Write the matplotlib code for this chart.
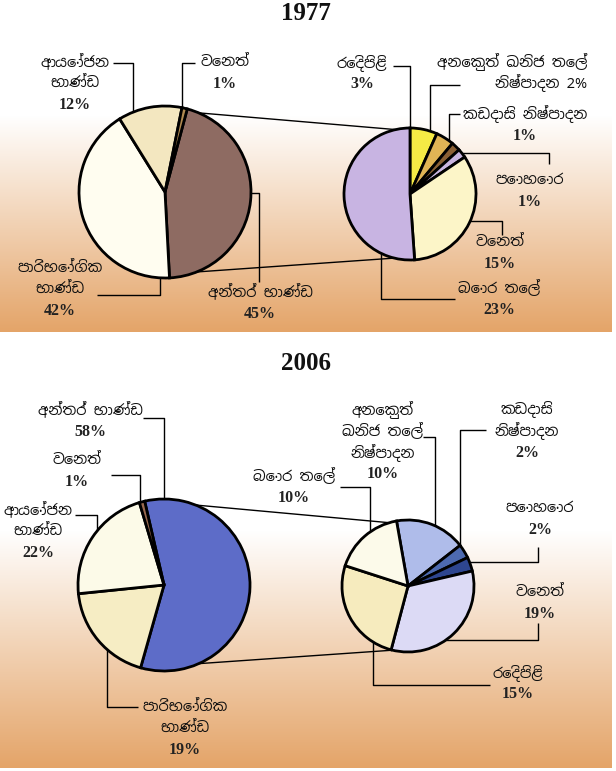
import matplotlib
matplotlib.use('Agg')
import matplotlib.pyplot as plt
import numpy as np
from matplotlib import font_manager

W, H = 616, 771

# ---- data ----
main_names = ['අන්තර් භාණ්ඩ', 'පාරිභෝගික භාණ්ඩ', 'ආයෝජන භාණ්ඩ', 'වෙනත්']
main_1977 = [45, 42, 12, 1]
main_2006 = [58, 19, 22, 1]

sub_names_1977 = ['රෙදිපිළි', 'අනෙකුත් ඛනිජ තෙල් නිෂ්පාදන', 'කඩදාසි නිෂ්පාදන',
                  'පොහොර', 'වෙනත්', 'බොර තෙල්']
sub_1977 = [3, 2, 1, 1, 15, 23]

sub_names_2006 = ['අනෙකුත් ඛනිජ තෙල් නිෂ්පාදන', 'කඩදාසි නිෂ්පාදන', 'පොහොර',
                  'වෙනත්', 'රෙදිපිළි', 'බොර තෙල්']
sub_2006 = [10, 2, 2, 19, 15, 10]

years = ['1977', '2006']

# colours
main_colors_1977 = ['#8E6B62', '#FFFDF0', '#F3E7C0', '#B08A50']
sub_colors_1977 = ['#F5EA45', '#E0B455', '#8A6035', '#C9B5E0', '#FCF5C8', '#C8B4E2']
main_colors_2006 = ['#5D6CC8', '#F6EDC4', '#FCFAE8', '#9A6A50']
sub_colors_2006 = ['#AFBCEA', '#4D6AB0', '#2E4690', '#DCDAF5', '#F6EBBE', '#FCFAEA']

# pick a font with Sinhala glyphs if there is one
names = sorted({f.name for f in font_manager.fontManager.ttflist})
sin_fonts = [n for n in names if 'Sinhala' in n or 'Iskoola' in n]
SIN = sin_fonts + ['DejaVu Sans']
SERIF = ['Liberation Serif', 'DejaVu Serif']

fig = plt.figure(figsize=(W / 100, H / 100), dpi=100)
ax = fig.add_axes([0, 0, 1, 1])

# background: two panels fading from white into orange
bg = np.ones((H, W, 3))
orange = np.array([228, 164, 104]) / 255
for top, fade, bottom in [(0, 115, 332), (345, 530, 768)]:
    for y in range(top, bottom):
        t = 0 if y < fade else (y - fade) / (bottom - fade)
        bg[y, :612] = (1 - t) * np.ones(3) + t * orange
ax.imshow(bg, extent=(0, W, 0, H), zorder=0, interpolation='bilinear')


def pt(cx, cy, r, deg):
    # point on a circle, clockwise degrees from the top, image coords
    a = np.radians(deg)
    return cx + r * np.sin(a), cy - r * np.cos(a)


def draw_pie(values, colors, cx, cy, r, start):
    ax.pie(values, colors=colors, startangle=90 - start, counterclock=False,
           center=(cx, H - cy), radius=r, frame=True,
           wedgeprops=dict(edgecolor='black', linewidth=2.0, zorder=3))


def leader(pts):
    xs = [p[0] for p in pts]
    ys = [H - p[1] for p in pts]
    ax.plot(xs, ys, color='black', lw=1.0, zorder=1.5, solid_capstyle='butt')


def label(name, value, x, y, split, inline=False, ha='center', ls=21.5):
    words = name.split(' ')
    lines, i = [], 0
    for n in split:
        lines.append(' '.join(words[i:i + n]))
        i += n
    if inline:
        lines[-1] += f' {value}%'
    for k, line in enumerate(lines):
        ax.text(x, H - (y + k * ls), line, family=SIN, fontsize=10.5,
                fontweight='bold', ha=ha, va='center', color='#111111')
    if not inline:
        ax.text(x, H - (y + len(lines) * ls), f'{value}%', family=SERIF,
                fontsize=11.5, fontweight='bold', ha=ha, va='center', color='#222222')


panels = [
    dict(year=years[0], ty=14,
         main=(main_1977, main_colors_1977, 165, 192, 86, 15),
         sub=(sub_1977, sub_colors_1977, 410, 194, 66, 0),
         links=[(15, 3), (167, 172)],
         main_lab=[(260, 292, [2]), (60, 268, [1, 1]), (75, 62, [1, 1]), (225, 62, [1])],
         main_lead=[[(246, 193), (259, 193), (259, 282)],
                    [(97, 295), (160, 295), (160, 270)],
                    [(113, 63), (133, 63), (133, 118)],
                    [(195, 63), (182, 63), (182, 116)]],
         sub_names=sub_names_1977,
         sub_lab=[(362, 63, [1]), (587, 62, [3, 1], True, 'right'), (525, 114, [2]),
                  (530, 180, [1]), (500, 242, [1]), (499, 289, [2])],
         sub_lead=[[(393, 66), (410, 66), (410, 135)],
                   [(460, 85), (430, 85), (430, 138)],
                   [(460, 114), (449, 114), (449, 146)],
                   [(455, 153), (549, 153), (549, 164)],
                   [(465, 221), (502, 221), (502, 235)],
                   [(381, 248), (381, 299), (455, 299)]]),
    dict(year=years[1], ty=363,
         main=(main_2006, main_colors_2006, 164, 585, 86, 347),
         sub=(sub_2006, sub_colors_2006, 408, 586, 66, 350),
         links=[(359, 352), (163, 174)],
         main_lab=[(90, 410, [2]), (185, 707, [1, 1]), (38, 510, [1, 1]), (77, 460, [1])],
         main_lead=[[(143, 418), (164, 418), (164, 505)],
                    [(107, 645), (107, 707), (138, 707)],
                    [(75, 515), (97, 515), (97, 540)],
                    [(111, 475), (140, 475), (140, 508)]],
         sub_names=sub_names_2006,
         sub_lab=[(383, 410, [1, 2, 1]), (527, 410, [1, 1]), (540, 508, [1]),
                  (540, 592, [1]), (518, 673, [1]), (294, 477, [2])],
         sub_lead=[[(423, 437), (435, 437), (435, 530)],
                   [(486, 430), (460, 430), (460, 550)],
                   [(465, 562), (538, 562), (538, 547)],
                   [(440, 640), (538, 640), (538, 623)],
                   [(373, 635), (373, 685), (490, 685)],
                   [(340, 487), (370, 487), (370, 538)]]),
]

for p in panels:
    ax.text(W / 2 - 2, H - p['ty'], p['year'], family=SERIF, fontsize=18,
            fontweight='bold', ha='center', va='center', color='#111111')
    draw_pie(*p['main'])
    draw_pie(*p['sub'])
    # lines joining the big slice to the breakdown pie
    _, _, mx, my, mr, _ = p['main']
    _, _, sx, sy, sr, _ = p['sub']
    for a_main, a_sub in p['links']:
        leader([pt(mx, my, mr - 3, a_main), pt(sx, sy, sr - 3, a_sub)])
    vals = p['main'][0]
    for name, v, lab, ld in zip(main_names, vals, p['main_lab'], p['main_lead']):
        label(name, v, *lab)
        leader(ld)
    vals = p['sub'][0]
    for name, v, lab, ld in zip(p['sub_names'], vals, p['sub_lab'], p['sub_lead']):
        label(name, v, *lab)
        leader(ld)

ax.set_xlim(0, W)
ax.set_ylim(0, H)
ax.set_aspect('auto')
ax.axis('off')

fig.savefig('out.png', dpi=100)
